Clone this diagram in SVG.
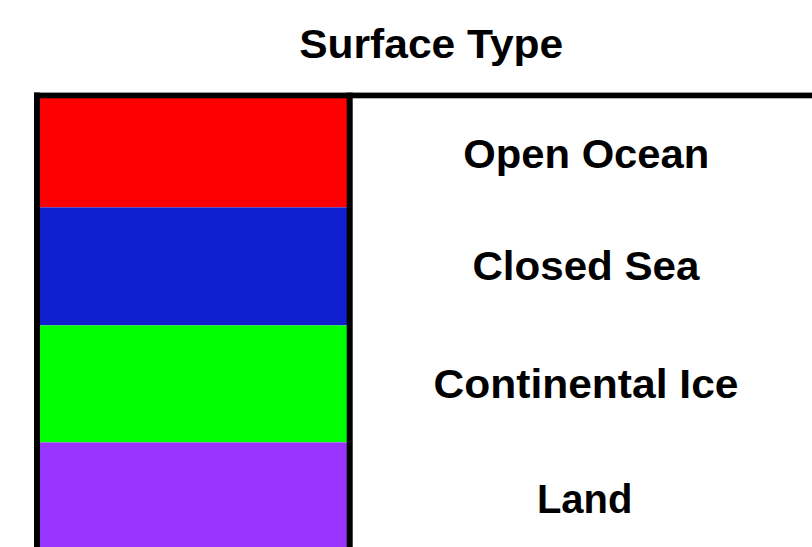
<svg xmlns="http://www.w3.org/2000/svg" width="812" height="547" viewBox="0 0 812 547">
<style>
.t{font-family:"Liberation Sans",Arial,sans-serif;font-weight:bold;font-size:40px;fill:#000;text-anchor:middle}
.b{fill:#000}
</style>
<rect width="812" height="547" fill="#fff"/>
<text class="t" x="431.2" y="57.5" font-size="38" textLength="264" lengthAdjust="spacingAndGlyphs">Surface Type</text>
<g id="cell-open-ocean"><rect x="40" y="98" width="307" height="109.4" fill="#ff0000"/><text class="t" x="586.3" y="167.5" textLength="246" lengthAdjust="spacingAndGlyphs">Open Ocean</text></g>
<g id="cell-closed-sea"><rect x="40" y="207.4" width="307" height="118" fill="#1020d0"/><text class="t" x="585.9" y="279.5" textLength="227" lengthAdjust="spacingAndGlyphs">Closed Sea</text></g>
<g id="cell-continental-ice"><rect x="40" y="325.4" width="307" height="117" fill="#00ff00"/><text class="t" x="586" y="397.7" textLength="305" lengthAdjust="spacingAndGlyphs">Continental Ice</text></g>
<g id="cell-land"><rect x="40" y="442.4" width="307" height="110" fill="#9933ff"/><text class="t" x="584.7" y="513.3" textLength="95.5" lengthAdjust="spacingAndGlyphs">Land</text></g>
<g id="borders">
<rect class="b" x="34" y="92.6" width="778" height="5.7"/>
<rect class="b" x="34" y="92.6" width="6" height="460"/>
<rect class="b" x="346.7" y="92.6" width="6" height="460"/>
</g>
</svg>
